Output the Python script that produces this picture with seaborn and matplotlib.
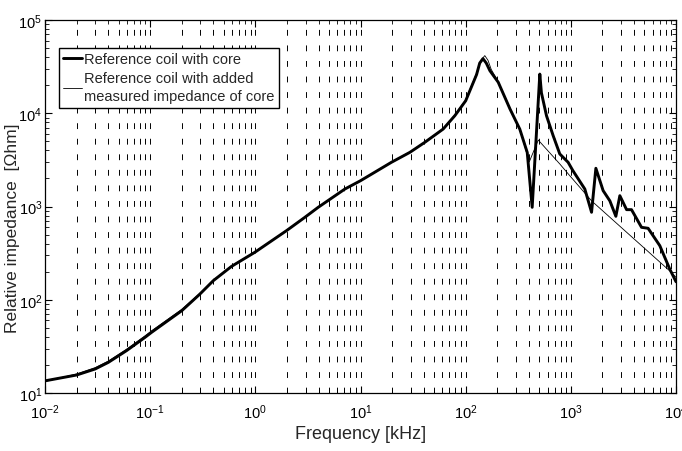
import numpy as np
import pandas as pd
import seaborn as sns
import matplotlib
matplotlib.use("Agg")
import matplotlib.pyplot as plt
from matplotlib.ticker import LogLocator

# values (frequency in kHz, impedance in Ohm)
freq_core = [0.01, 0.02, 0.03, 0.04, 0.0597, 0.0893, 0.1033, 0.2, 0.297, 0.398, 0.594,
             0.99, 1.98, 2.96, 3.96, 7.11, 10, 19.7, 29.5, 40.9, 61.1, 78.9, 100, 127,
             136, 146, 157, 170, 204, 264, 327, 385, 429, 507, 525, 587, 679, 785, 942,
             1047, 1358, 1574, 1730, 2028, 2350, 2680, 2924, 3390, 3776, 4700, 5430,
             7015, 8710, 10000]
imp_core = [13.5, 15.6, 18.1, 21.3, 28.5, 39.5, 44.8, 76.4, 115, 160, 228,
            323, 551, 766, 980, 1540, 1890, 2980, 3810, 4880, 6770, 9420, 13600, 26000,
            34500, 38500, 34500, 28600, 21500, 11100, 6760, 3800, 980, 26300, 16600, 9400,
            5750, 3660, 2980, 2420, 1540, 867, 2570, 1480, 1150, 785, 1306, 925, 925, 598,
            584, 380, 214, 156]

freq_added = [0.01, 0.02, 0.03, 0.04, 0.0597, 0.0893, 0.1033, 0.2, 0.297, 0.398, 0.594,
              0.99, 1.98, 2.96, 3.96, 7.11, 10, 19.7, 29.5, 40.9, 61.1, 78.9, 100, 127,
              140, 152, 163, 175, 204, 264, 327, 402, 490, 785, 977, 1574, 8710, 10000]
imp_added = [13.3, 16.0, 18.7, 22.0, 29.5, 41, 46.5, 79, 117, 162, 231,
             326, 556, 772, 988, 1550, 1900, 3000, 3840, 4920, 6850, 9600, 13900, 27000,
             37000, 41500, 37000, 29500, 21800, 11300, 6800, 3000, 5160, 2860, 2140, 1150,
             204, 174]

label_core = "Reference coil with core"
label_added = "Reference coil with added\nmeasured impedance of core"

sns.set_style("ticks")
plt.rcParams['font.family'] = ['Liberation Sans', 'DejaVu Sans']
plt.rcParams['mathtext.fontset'] = 'custom'
plt.rcParams['mathtext.rm'] = 'Liberation Sans'
plt.rcParams['mathtext.it'] = 'Liberation Sans'

df_core = pd.DataFrame({"f": freq_core, "z": imp_core})
df_added = pd.DataFrame({"f": freq_added, "z": imp_added})

fig = plt.figure(figsize=(6.82, 4.52), dpi=100)
ax = fig.add_axes([45 / 682, 1 - 394 / 452, 631 / 682, 373 / 452])

sns.lineplot(data=df_core, x="f", y="z", ax=ax, color="black", linewidth=2.1,
             label=label_core, estimator=None)
sns.lineplot(data=df_added, x="f", y="z", ax=ax, color="black", linewidth=0.6,
             label=label_added, estimator=None)

ax.set_xscale("log")
ax.set_yscale("log")
ax.set_xlim(1e-2, 1e4)
ax.set_ylim(1e1, 1e5)

ax.xaxis.set_major_locator(LogLocator(base=10, numticks=10))
ax.xaxis.set_minor_locator(LogLocator(base=10, subs=np.arange(2, 10), numticks=20))
ax.yaxis.set_major_locator(LogLocator(base=10, numticks=10))
ax.yaxis.set_minor_locator(LogLocator(base=10, subs=np.arange(2, 10), numticks=20))

# vertical dashed grid only
ax.grid(True, which="both", axis="x", color="black", linewidth=0.7,
        linestyle=(0, (6, 10)))
ax.grid(False, axis="y", which="both")

ax.tick_params(which="both", direction="in", top=True, right=True, colors="black",
               labelsize=10.5)
ax.tick_params(which="major", length=5, width=0.8)
ax.tick_params(which="minor", length=3, width=0.6)
ax.tick_params(axis="x", pad=7)
ax.tick_params(axis="y", pad=2)
for s in ax.spines.values():
    s.set_color("black")
    s.set_linewidth(0.9)

ax.set_xlabel("Frequency [kHz]", fontsize=13, labelpad=3)
ax.set_ylabel("Relative impedance  [Ωhm]", fontsize=12.5)
ax.yaxis.set_label_coords(-0.040, 0.445)

leg = ax.legend(loc="upper left", bbox_to_anchor=(0.022, 0.925), fontsize=10.5,
                frameon=True, fancybox=False, framealpha=1, edgecolor="black",
                handlelength=1.3, handletextpad=0.15, borderpad=0.3,
                labelspacing=0.35, borderaxespad=0)
leg.get_frame().set_linewidth(1.0)
leg.get_texts()[1].set_linespacing(1.35)

fig.savefig("out.png", dpi=100)
